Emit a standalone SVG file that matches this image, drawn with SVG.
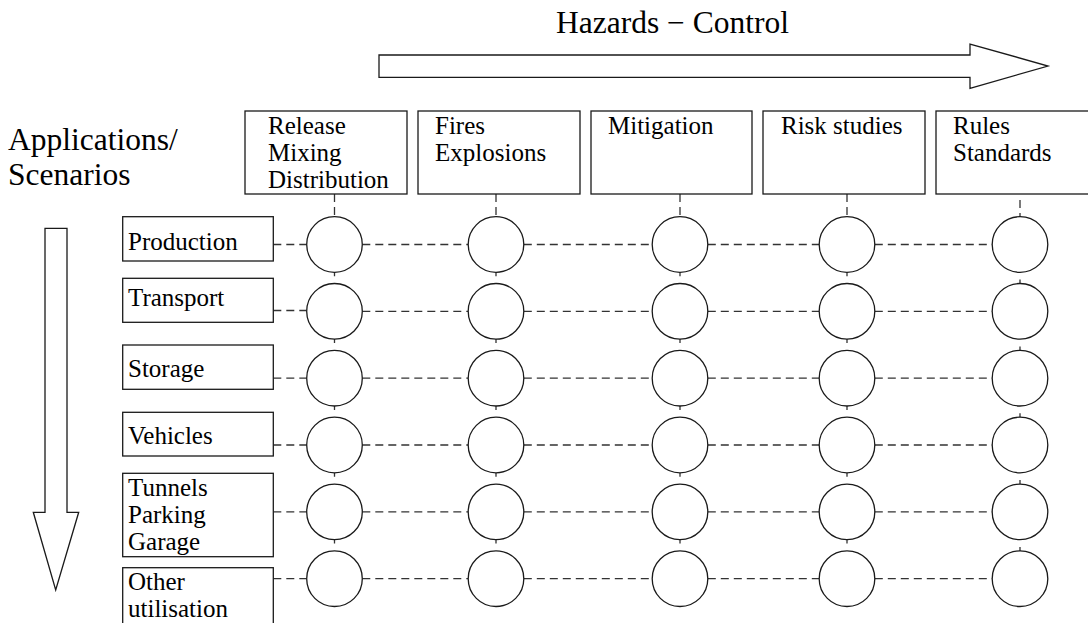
<svg xmlns="http://www.w3.org/2000/svg" width="1088" height="623" viewBox="0 0 1088 623">
<style>
.bx{fill:#fff;stroke:#1a1a1a;stroke-width:1.3}
.ar{fill:#fff;stroke:#1a1a1a;stroke-width:1.3}
.c{fill:#fff;stroke:#1a1a1a;stroke-width:1.3}
.d{stroke:#333;stroke-width:1.3;stroke-dasharray:8 5;fill:none}
.t{stroke:#333;stroke-width:1.3;fill:none}
text{font-family:"Liberation Serif","Times New Roman",serif;fill:#000}
.s{font-size:25px}
.b{font-size:31.5px}
</style>
<rect width="1088" height="623" fill="#fff"/>
<g id="title"><text class="b" x="556" y="33">Hazards − Control</text></g>
<g id="side-title"><text class="b" x="8" y="150">Applications/</text><text class="b" x="8" y="185">Scenarios</text></g>
<g id="arrow-h"><polygon class="ar" points="379,55 970,55 970,44 1048,66 970,88.3 970,77.3 379,77.3"/></g>
<g id="arrow-v"><polygon class="ar" points="45,228.3 67,228.3 67,512.3 78.7,512.3 55.7,590 33.3,512.3 45,512.3"/></g>
<g id="connectors">
<line class="d" x1="334.5" y1="194" x2="334.5" y2="216.7"/>
<line class="d" x1="496" y1="194" x2="496" y2="216.7"/>
<line class="d" x1="680" y1="194" x2="680" y2="216.7"/>
<line class="d" x1="847" y1="194" x2="847" y2="216.7"/>
<line class="d" x1="1020" y1="200" x2="1020" y2="216.7"/>
<g id="ticks">
<path class="t" d="M334.5,272.3v4M496,272.3v4M680,272.3v4M847,272.3v4M1020,279.5v4
M334.5,339.1v4M496,339.1v4M680,339.1v4M847,339.1v4M1020,346.4v4
M334.5,406v4M496,406v4M680,406v4M847,406v4M1020,413.2v4
M334.5,472.8v4M496,472.8v4M680,472.8v4M847,472.8v4M1020,480v4
M334.5,539.6v4M496,539.6v4M680,539.6v4M847,539.6v4M1020,546.9v4"/>
</g>
<g id="rows">
<path class="d" d="M273.3,244.5H306.7M362.3,244.5H468.2M523.8,244.5H652.2M707.8,244.5H819.2M874.8,244.5H992.2"/>
<path class="d" d="M273.3,310.5H306.7M362.3,311.3H468.2M523.8,311.3H652.2M707.8,311.3H819.2M874.8,311.3H992.2"/>
<path class="d" d="M273.3,378.2H306.7M362.3,378.2H468.2M523.8,378.2H652.2M707.8,378.2H819.2M874.8,378.2H992.2"/>
<path class="d" d="M273.3,445H306.7M362.3,445H468.2M523.8,445H652.2M707.8,445H819.2M874.8,445H992.2"/>
<path class="d" d="M273.3,511.9H306.7M362.3,511.9H468.2M523.8,511.9H652.2M707.8,511.9H819.2M874.8,511.9H992.2"/>
<path class="d" d="M273.3,578.7H306.7M362.3,578.7H468.2M523.8,578.7H652.2M707.8,578.7H819.2M874.8,578.7H992.2"/>
</g>
</g>
<g id="h1"><rect class="bx" x="245" y="111" width="162" height="83"/><text class="s" x="268" y="134">Release</text><text class="s" x="268" y="161">Mixing</text><text class="s" x="268" y="188">Distribution</text></g>
<g id="h2"><rect class="bx" x="418" y="111" width="162" height="83"/><text class="s" x="435" y="134">Fires</text><text class="s" x="435" y="161">Explosions</text></g>
<g id="h3"><rect class="bx" x="591" y="111" width="161" height="83"/><text class="s" x="608" y="134">Mitigation</text></g>
<g id="h4"><rect class="bx" x="763" y="111" width="162" height="83"/><text class="s" x="781" y="134">Risk studies</text></g>
<g id="h5"><rect class="bx" x="936" y="111" width="162" height="83"/><text class="s" x="953" y="134">Rules</text><text class="s" x="953" y="161">Standards</text></g>
<g id="r1"><rect class="bx" x="122.7" y="216.7" width="150.6" height="44.3"/><text class="s" x="128" y="250">Production</text></g>
<g id="r2"><rect class="bx" x="122.7" y="278.3" width="150.6" height="44"/><text class="s" x="128" y="305.5">Transport</text></g>
<g id="r3"><rect class="bx" x="122.7" y="345" width="150.6" height="44.3"/><text class="s" x="128" y="377">Storage</text></g>
<g id="r4"><rect class="bx" x="122.7" y="412.3" width="150.6" height="43.7"/><text class="s" x="128" y="444">Vehicles</text></g>
<g id="r5"><rect class="bx" x="122.7" y="473.3" width="150.6" height="83.4"/><text class="s" x="128" y="495.5">Tunnels</text><text class="s" x="128" y="522.5">Parking</text><text class="s" x="128" y="549.5">Garage</text></g>
<g id="r6"><rect class="bx" x="122.7" y="567.7" width="150.6" height="80"/><text class="s" x="128" y="590">Other</text><text class="s" x="128" y="617">utilisation</text></g>
<g id="circles">
<g id="row1"><circle class="c" cx="334.5" cy="244.5" r="27.8"/><circle class="c" cx="496" cy="244.5" r="27.8"/><circle class="c" cx="680" cy="244.5" r="27.8"/><circle class="c" cx="847" cy="244.5" r="27.8"/><circle class="c" cx="1020" cy="244.5" r="27.8"/></g>
<g id="row2"><circle class="c" cx="334.5" cy="311.3" r="27.8"/><circle class="c" cx="496" cy="311.3" r="27.8"/><circle class="c" cx="680" cy="311.3" r="27.8"/><circle class="c" cx="847" cy="311.3" r="27.8"/><circle class="c" cx="1020" cy="311.3" r="27.8"/></g>
<g id="row3"><circle class="c" cx="334.5" cy="378.2" r="27.8"/><circle class="c" cx="496" cy="378.2" r="27.8"/><circle class="c" cx="680" cy="378.2" r="27.8"/><circle class="c" cx="847" cy="378.2" r="27.8"/><circle class="c" cx="1020" cy="378.2" r="27.8"/></g>
<g id="row4"><circle class="c" cx="334.5" cy="445" r="27.8"/><circle class="c" cx="496" cy="445" r="27.8"/><circle class="c" cx="680" cy="445" r="27.8"/><circle class="c" cx="847" cy="445" r="27.8"/><circle class="c" cx="1020" cy="445" r="27.8"/></g>
<g id="row5"><circle class="c" cx="334.5" cy="511.9" r="27.8"/><circle class="c" cx="496" cy="511.9" r="27.8"/><circle class="c" cx="680" cy="511.9" r="27.8"/><circle class="c" cx="847" cy="511.9" r="27.8"/><circle class="c" cx="1020" cy="511.9" r="27.8"/></g>
<g id="row6"><circle class="c" cx="334.5" cy="578.7" r="27.8"/><circle class="c" cx="496" cy="578.7" r="27.8"/><circle class="c" cx="680" cy="578.7" r="27.8"/><circle class="c" cx="847" cy="578.7" r="27.8"/><circle class="c" cx="1020" cy="578.7" r="27.8"/></g>
</g>
</svg>
